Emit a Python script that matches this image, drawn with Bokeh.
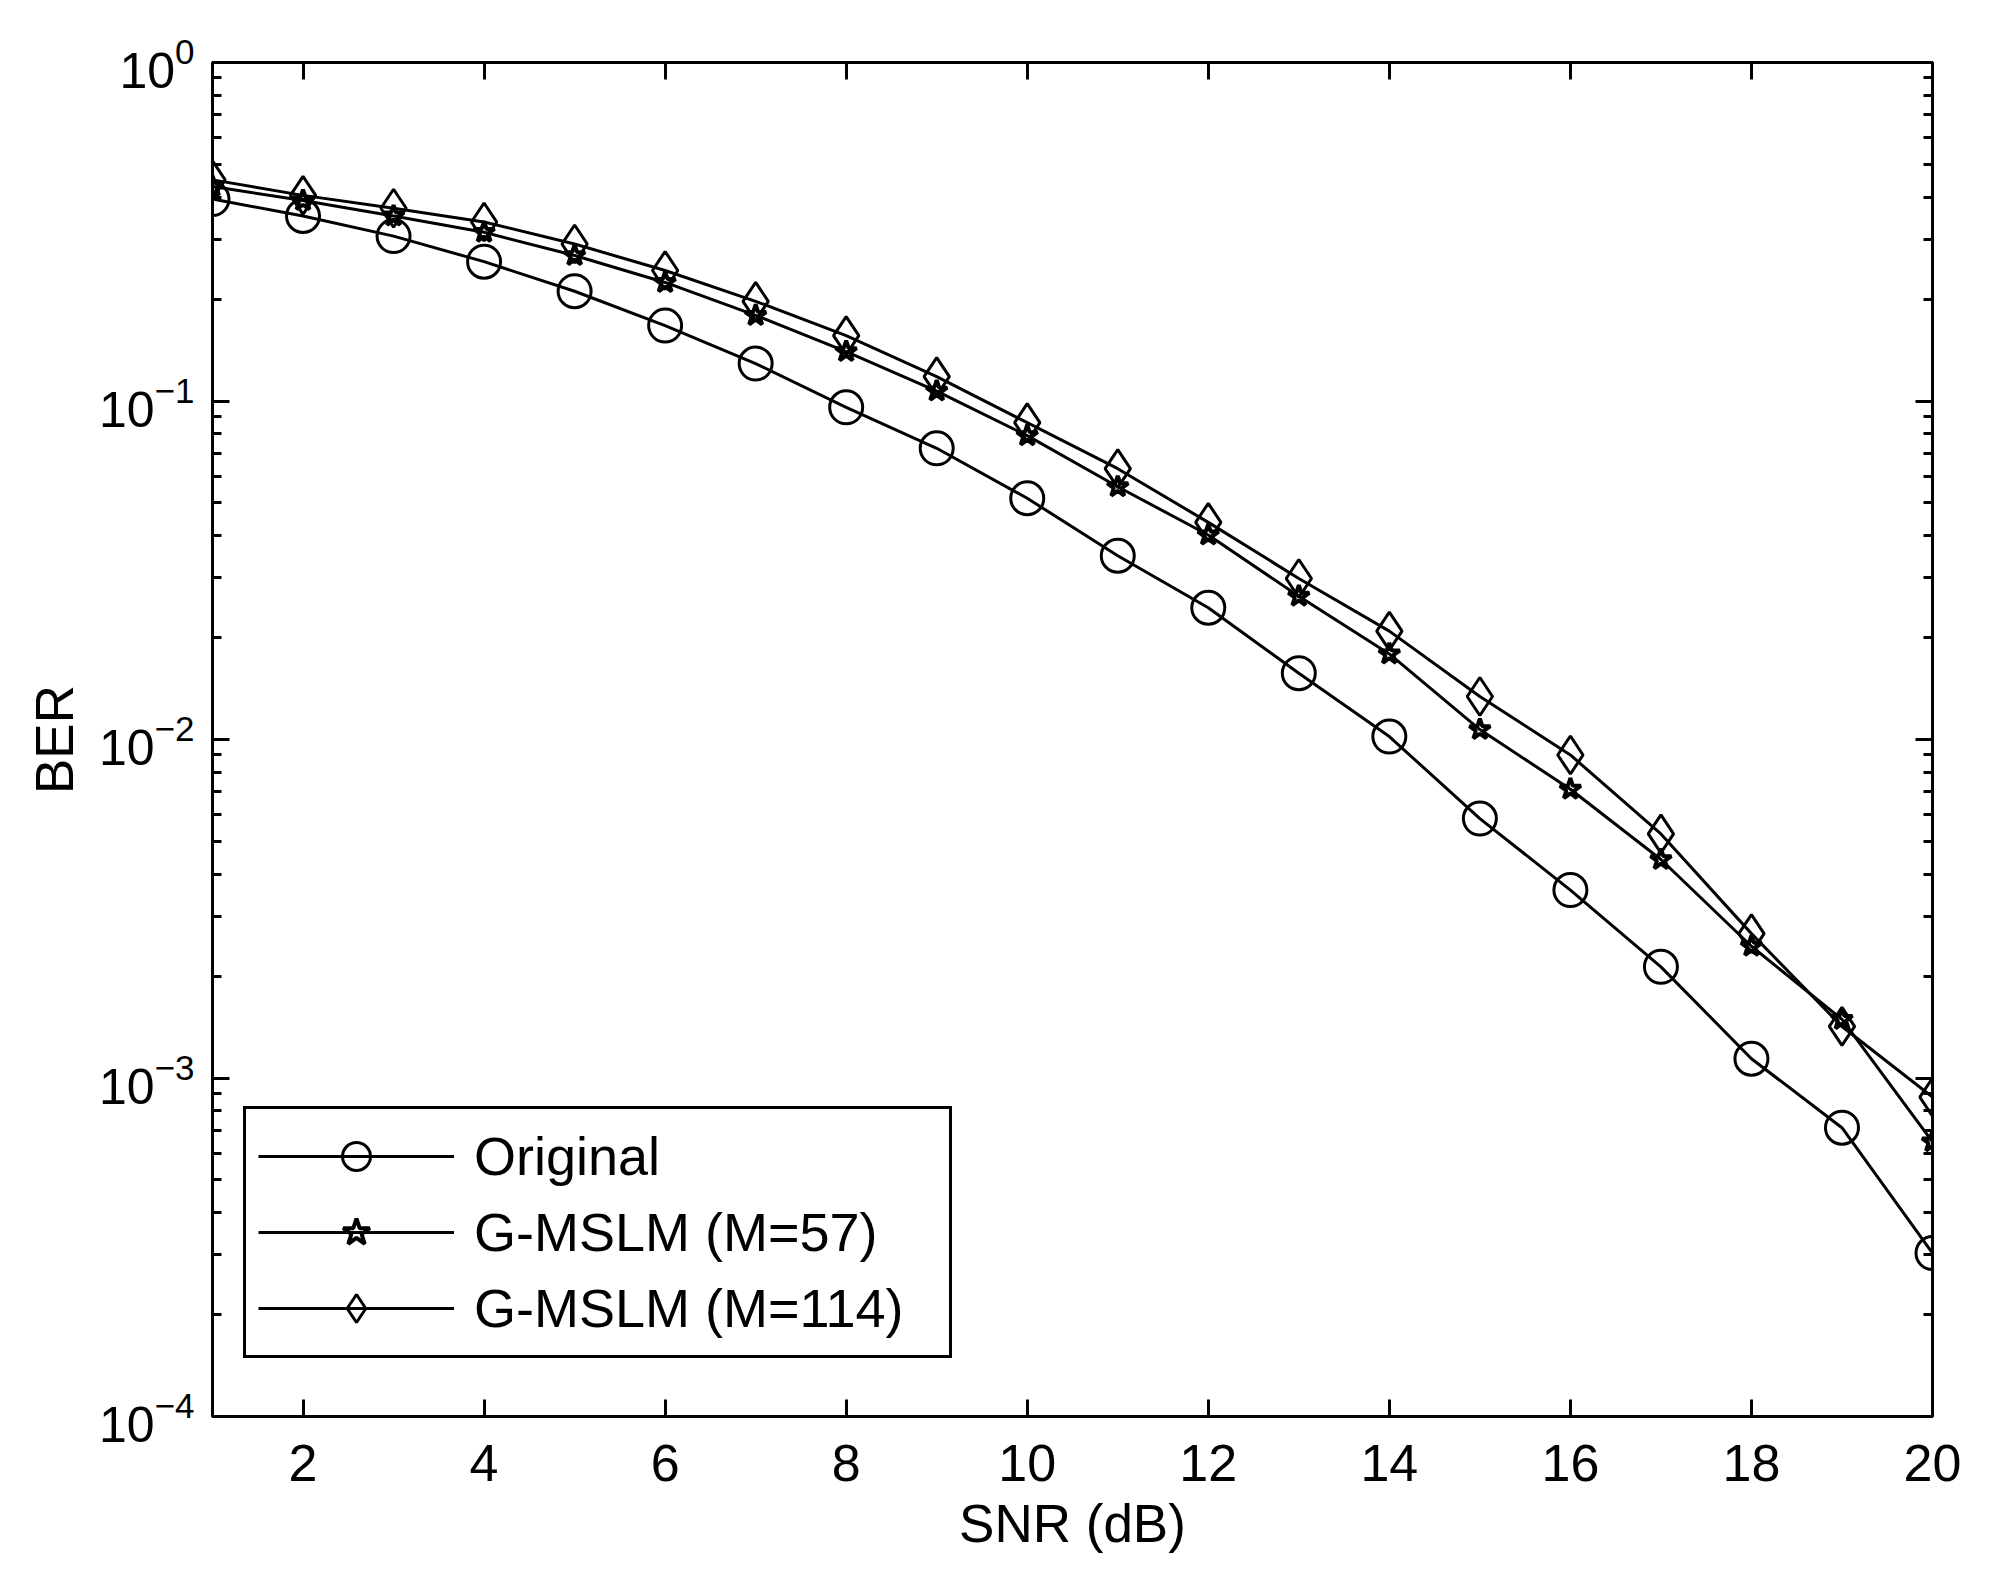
from bokeh.plotting import figure
from bokeh.models import FixedTicker, LinearAxis, LogAxis, Legend, LegendItem
from bokeh.embed import file_html
from bokeh.resources import INLINE

snr = list(range(1, 21))
ber_original = [0.395, 0.352, 0.307, 0.258, 0.211, 0.167, 0.129, 0.0958, 0.0725, 0.0516,
                0.0349, 0.0245, 0.0157, 0.0102, 0.00584, 0.00359, 0.00213, 0.00114, 0.000713, 0.000304]
ber_m57 = [0.43, 0.391, 0.352, 0.315, 0.269, 0.224, 0.179, 0.140, 0.107, 0.079,
           0.0558, 0.0402, 0.0265, 0.0179, 0.0107, 0.00713, 0.00442, 0.00245, 0.00149, 0.000648]
ber_m114 = [0.45, 0.405, 0.371, 0.338, 0.291, 0.243, 0.197, 0.156, 0.118, 0.0863,
            0.0631, 0.0438, 0.0299, 0.0209, 0.0134, 0.0090, 0.00526, 0.00267, 0.00142, 0.000878]
labels = ["Original", "G-MSLM (M=57)", "G-MSLM (M=114)"]
x_ticks = [2, 4, 6, 8, 10, 12, 14, 16, 18, 20]
y_ticks = [1e-4, 1e-3, 1e-2, 1e-1, 1.0]
y_minor = [m * 10.0 ** e for e in range(-4, 0) for m in range(2, 10)]

FONT = "Liberation Sans"

p = figure(width=1985, height=1560, y_axis_type="log",
           x_range=(1, 20), y_range=(1e-4, 1.0),
           output_backend="svg", toolbar_location=None,
           min_border_left=212, min_border_top=62, min_border_right=53, min_border_bottom=144)

p.grid.visible = False
p.outline_line_color = "black"
p.outline_line_width = 3
p.background_fill_color = "white"
p.border_fill_color = "white"

def style_axis(ax, show_labels=True):
    ax.axis_line_color = "black"
    ax.axis_line_width = 3
    ax.major_tick_line_color = "black"
    ax.major_tick_line_width = 3
    ax.minor_tick_line_color = "black"
    ax.minor_tick_line_width = 3
    ax.major_tick_in = 17
    ax.major_tick_out = 0
    ax.minor_tick_in = 9
    ax.minor_tick_out = 0
    ax.major_label_text_font = FONT
    ax.major_label_text_font_size = "52px"
    ax.major_label_text_color = "black"
    ax.axis_label_text_font = FONT
    ax.axis_label_text_font_size = "53px"
    ax.axis_label_text_font_style = "normal"
    ax.axis_label_text_color = "black"
    if not show_labels:
        ax.major_label_text_alpha = 0
        ax.major_label_text_font_size = "1px"

xb = p.xaxis[0]
xb.ticker = FixedTicker(ticks=x_ticks)
xb.axis_label = "SNR (dB)"
style_axis(xb)
xb.major_label_standoff = 28
xb.axis_label_standoff = 10

yl = p.yaxis[0]
yl.ticker = FixedTicker(ticks=y_ticks, minor_ticks=y_minor)
yl.axis_label = "BER"
style_axis(yl)
yl.major_label_text_font_size = "50px"
yl.major_label_standoff = 18
yl.axis_label_standoff = 12

xt = LinearAxis(ticker=FixedTicker(ticks=x_ticks))
style_axis(xt, show_labels=False)
p.add_layout(xt, "above")

yr = LogAxis(ticker=FixedTicker(ticks=y_ticks, minor_ticks=y_minor))
style_axis(yr, show_labels=False)
p.add_layout(yr, "right")

l1 = p.line(snr, ber_original, line_color="black", line_width=3)
m1 = p.scatter(snr, ber_original, marker="circle", size=33, fill_color=None,
               line_color="black", line_width=3)
l2 = p.line(snr, ber_m57, line_color="black", line_width=3)
m2 = p.scatter(snr, ber_m57, marker="star", size=22, fill_color=None,
               line_color="black", line_width=4)
l3 = p.line(snr, ber_m114, line_color="black", line_width=3)
m3 = p.scatter(snr, ber_m114, marker="diamond", size=38, fill_color=None,
               line_color="black", line_width=3)

legend = Legend(items=[
    LegendItem(label=labels[0], renderers=[l1, m1]),
    LegendItem(label=labels[1], renderers=[l2, m2]),
    LegendItem(label=labels[2], renderers=[l3, m3]),
], location=(31, 58))
legend.label_text_font = FONT
legend.label_text_font_size = "54px"
legend.label_text_color = "black"
legend.glyph_width = 196
legend.glyph_height = 70
legend.label_height = 70
legend.label_width = 463
legend.spacing = 6
legend.padding = 12
legend.margin = 0
legend.label_standoff = 20
legend.border_line_color = "black"
legend.border_line_alpha = 1
legend.border_line_width = 3
legend.background_fill_color = "white"
legend.background_fill_alpha = 1
p.add_layout(legend, "center")

open("out.html", "w").write(file_html(p, INLINE))
